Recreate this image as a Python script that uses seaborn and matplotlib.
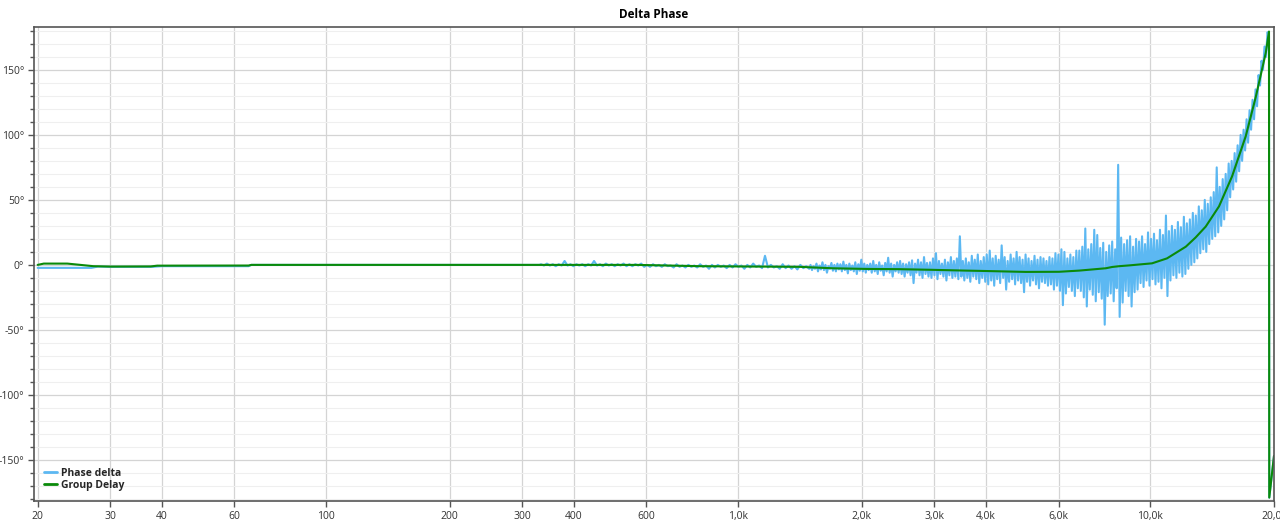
import numpy as np
import pandas as pd
import matplotlib
matplotlib.use("Agg")
import matplotlib.pyplot as plt
from matplotlib.ticker import FixedLocator, FixedFormatter, MultipleLocator, NullLocator
import seaborn as sns

# ---- values ----
# Group delay (smooth green curve), frequency in Hz, phase in degrees
green_freq = [20, 20.7, 23.6, 25.4, 27.3, 30, 37.6, 39, 65, 66, 569, 809, 1412, 1698,
              2050, 2468, 2966, 3580, 3856, 5000, 6020, 6730, 7815, 8100, 8420, 8900,
              10120, 11000, 12220, 12900, 13660, 14710, 15820, 17080, 18060, 19100,
              19450, 19480, 20000]
green_phase = [0, 1, 1, 0, -1, -1.3, -1.2, -0.6, -0.5, 0, 0, -1, -1.5, -2.6,
               -3.1, -3.3, -3.8, -4.4, -4.6, -5.4, -5.3, -4.4, -2.6, -1.6, -1.0, -0.4,
               1.2, 5, 14, 21, 29.5, 45, 68, 99, 129, 163,
               179.5, -179, -147]

# Phase delta (light blue), low end: a few explicit points
blue_low_freq = [20, 27, 28, 30, 38, 40, 65, 66, 150, 330]
blue_low_phase = [-2.3, -2.3, -1.3, -1.5, -1.5, -1, -1, 0, 0, 0]

# quiet stretch 333 Hz - 1.5 kHz: upper and lower swings of the trace
blue_mid_upper = [0.5, 1, 0.5, 0.5, 3, 0.5, 0.5, 0.5, 0.5, 3,
                  0.5, 1, 0.5, 0.5, 1, 0.5, 0.5, 1, 0, 0.5,
                  0, 0.5, -0.5, 0.5, -0.5, 0, -0.5, 0.5, -0.5, 0,
                  0, -0.5, 0, 0.5, -0.5, 0, 1, -0.5, 7, 0,
                  -1, 0.5, -0.5, -1, 0, -1]
blue_mid_lower = [-0.5, -0.5, -1, -0.5, -0.5, -1, -0.5, -1, -0.5, -0.5,
                  -1, -0.5, -1, -0.5, -1, -1, -0.5, -1.5, -1.5, -1,
                  -1.5, -1, -2, -1.5, -2, -1.5, -2, -1.5, -3, -2,
                  -1.5, -2.5, -2, -1.5, -3, -2, -1.5, -2.5, -2, -2,
                  -3, -2.5, -3, -3.5, -2.5, -3]

# noisy stretch 1.5 kHz - 19.45 kHz: upper and lower swings of the trace
blue_hi_upper = [0, -1, 1, -0.5, 2, 0, -1, 1.5, 0, 1,
                 0.5, 2.5, 0, 1, -0.5, 2, 0.5, 4, 1, 0,
                 1, 3, 0, 2, -0.5, 1.5, 5.5, 1, 0, 2,
                 3, 1, 0.5, 2, 3.5, 1, 4, 2, 6, 1.5,
                 2, 5, 9, 3, 1, 4, 2, 6, 3, 5,
                 22, 3, 5, 2, 7, 4, 8, 3, 6, 8,
                 11, 5, 7, 4, 15, 6, 3, 8, 5, 10,
                 6, 4, 8, 5, 3, 7, 4, 6, 5, 3,
                 6, 5, 9, 8, 12, 10, 5, 8, 6, 11,
                 11, 14, 28, 12, 16, 27, 23, 13, 17, 10,
                 15, 18, 12, 77, 21, 16, 19, 22, 14, 20,
                 18, 22, 16, 25, 20, 24, 19, 27, 23, 38,
                 26, 30, 27, 33, 29, 37, 32, 35, 40, 38,
                 45, 42, 50, 47, 52, 56, 75, 60, 66, 70,
                 78, 80, 86, 92, 100, 104, 112, 119, 127, 135,
                 146, 157, 168, 179]
blue_hi_lower = [-4, -3, -5, -3.5, -4, -6, -3, -4.5, -5, -3.5,
                 -5, -4, -6.5, -4, -5, -7, -4.5, -5, -6, -4,
                 -6, -5, -7, -4.5, -8, -5, -6, -9, -5, -6,
                 -7, -9, -6, -8, -14, -6, -8, -10, -7, -9,
                 -10, -8, -11, -7, -9, -12, -8, -10, -9, -11,
                 -9, -12, -10, -13, -9, -11, -14, -10, -13, -15,
                 -12, -16, -11, -14, -10, -19, -13, -11, -15, -12,
                 -14, -21, -13, -16, -12, -15, -18, -13, -14, -16,
                 -15, -19, -16, -20, -31, -22, -17, -20, -24, -18,
                 -20, -25, -32, -19, -23, -28, -21, -26, -46, -24,
                 -22, -28, -18, -40, -29, -20, -24, -32, -21, -19,
                 -14, -17, -12, -16, -11, -15, -13, -18, -10, -24,
                 -12, -8, -10, -6, -9, -7, -3, 0, 2, 5,
                 9, 12, 10, 16, 20, 22, 25, 30, 35, 42,
                 52, 58, 64, 72, 80, 88, 94, 104, 112, 122,
                 138, 150, 160, 176]

blue_tail_freq = [19480, 20000]
blue_tail_phase = [-179, -147]

x_ticks = [20, 30, 40, 60, 100, 200, 300, 400, 600, 1000, 2000, 3000, 4000, 6000, 10000, 20000]
x_labels = ["20", "30", "40", "60", "100", "200", "300", "400", "600",
            "1,0k", "2,0k", "3,0k", "4,0k", "6,0k", "10,0k", "20,0k"]
y_ticks = [-150, -100, -50, 0, 50, 100, 150]
y_labels = ["-150°", "-100°", "-50°", "0°", "50°", "100°", "150°"]

# ---- assemble the blue trace (upper/lower swings interleaved) ----
mid_phase = np.ravel(np.column_stack([blue_mid_upper, blue_mid_lower]))
mid_freq = np.geomspace(333, 1490, len(mid_phase))
hi_phase = np.ravel(np.column_stack([blue_hi_upper, blue_hi_lower]))
hi_freq = np.geomspace(1501, 19450, len(hi_phase))

blue = pd.DataFrame({
    "freq": np.concatenate([blue_low_freq, mid_freq, hi_freq, blue_tail_freq]),
    "phase": np.concatenate([blue_low_phase, mid_phase, hi_phase, blue_tail_phase]),
})
green = pd.DataFrame({"freq": green_freq, "phase": green_phase})

# ---- plot ----
sns.set_theme(style="white")
plt.rcParams["font.family"] = ["Open Sans", "DejaVu Sans"]

fig = plt.figure(figsize=(12.8, 5.27), dpi=100)
ax = fig.add_axes([0.0266, 0.0484, 0.9687, 0.9004])

sns.lineplot(data=blue, x="freq", y="phase", sort=False, estimator=None,
             color="#5cb8f2", linewidth=1.5, label="Phase delta", ax=ax)
sns.lineplot(data=green, x="freq", y="phase", sort=False, estimator=None,
             color="#0a8a0a", linewidth=1.5, label="Group Delay", ax=ax)

ax.set_xscale("log")
ax.set_xlim(19.6, 20000)
ax.set_ylim(-182, 183)

ax.xaxis.set_major_locator(FixedLocator(x_ticks))
ax.xaxis.set_major_formatter(FixedFormatter(x_labels))
ax.xaxis.set_minor_locator(NullLocator())
ax.yaxis.set_major_locator(FixedLocator(y_ticks))
ax.yaxis.set_major_formatter(FixedFormatter(y_labels))
ax.yaxis.set_minor_locator(MultipleLocator(10))

ax.grid(True, which="major", color="#d4d4d4", linewidth=0.9)
ax.grid(True, which="minor", axis="y", color="#efefef", linewidth=0.8)
ax.set_axisbelow(True)

ax.tick_params(axis="both", which="major", direction="out", length=4, width=1,
               color="#555555", labelsize=7.5, labelcolor="#333333", pad=3)
ax.tick_params(axis="y", which="minor", direction="out", length=3, width=1, color="#555555")
ax.tick_params(axis="x", bottom=True)
ax.tick_params(axis="y", left=True, which="both")

for side in ["left", "right", "top", "bottom"]:
    ax.spines[side].set_color("#555555")
    ax.spines[side].set_linewidth(1.2)

ax.set_xlabel("")
ax.set_ylabel("")

leg = ax.legend(loc="lower left", frameon=False, handlelength=1.2, handletextpad=0.4,
                labelspacing=0.15, borderaxespad=0.6,
                prop={"weight": "bold", "size": 7.5})
for line in leg.get_lines():
    line.set_linewidth(2.0)

fig.suptitle("Delta Phase", x=0.511, y=0.985, fontsize=8.5, fontweight="bold", color="black")

fig.savefig("out.png", dpi=100)
